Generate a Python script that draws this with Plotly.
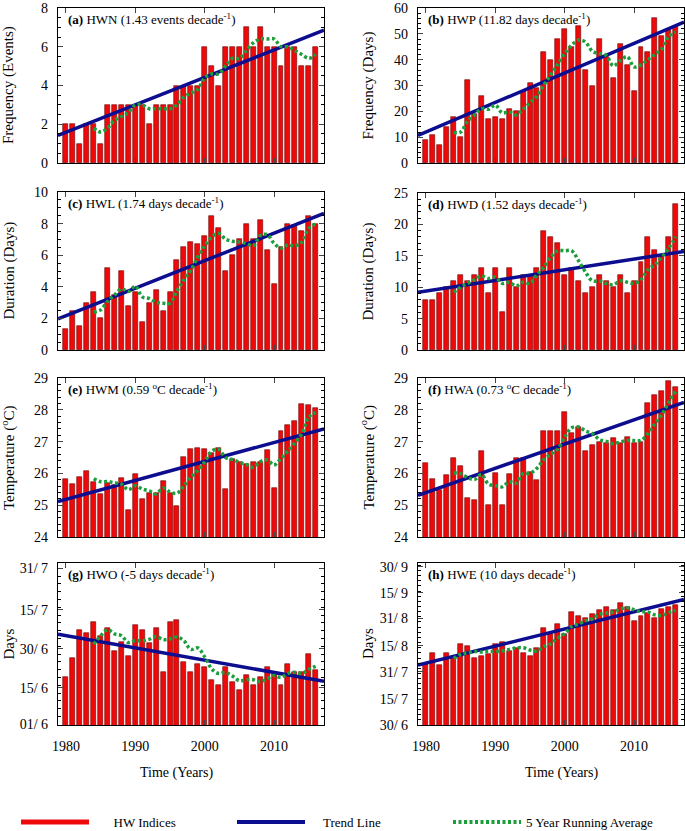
import numpy as np
import pandas as pd
import plotly.graph_objects as go
from plotly.subplots import make_subplots

years = list(range(1980, 2017))

hwn = [2, 2, 1, 2, 2, 1, 3, 3, 3, 3, 3, 3, 2, 3, 3, 3, 4, 4, 4, 4, 6, 5, 4, 6, 6, 6, 7, 6, 7, 6, 6, 5, 6, 6, 5, 5, 6]
hwp = [9, 11, 7, 14, 18, 10, 32, 19, 26, 17, 18, 17, 21, 20, 28, 31, 29, 43, 40, 48, 52, 45, 53, 36, 30, 48, 41, 33, 46, 38, 28, 45, 43, 56, 49, 52, 53]
hwl = [1.3, 2.5, 1.5, 3.0, 3.7, 2.0, 5.2, 3.5, 5.0, 2.8, 3.7, 1.8, 3.0, 3.8, 2.5, 3.7, 5.7, 6.5, 6.85, 6.7, 7.2, 8.5, 7.7, 5.0, 6.0, 7.0, 8.0, 7.0, 8.2, 6.35, 4.2, 6.5, 8.0, 7.9, 7.55, 8.5, 8.0]
hwd = [8, 8, 9, 10, 11, 12, 11, 12, 13, 9, 13, 6, 13, 10, 12, 12, 13, 19, 18, 17, 12, 13, 11, 9, 10, 12, 11, 10, 12, 9, 11, 14, 18, 16, 15, 18, 23.2]
hwm = [25.83, 25.67, 25.88, 26.06, 25.73, 25.36, 25.7, 25.65, 25.87, 24.85, 25.98, 25.18, 25.38, 25.38, 25.77, 25.38, 24.97, 26.53, 26.76, 26.79, 26.77, 26.65, 26.8, 25.5, 26.45, 26.35, 26.3, 26.37, 26.37, 26.73, 25.55, 27.34, 27.53, 27.64, 28.17, 28.16, 28.05]
hwa = [26.34, 25.82, 25.48, 25.94, 26.5, 26.22, 25.22, 25.16, 26.72, 25.0, 26.0, 25.0, 25.97, 26.5, 26.5, 26.05, 25.8, 27.33, 27.33, 27.32, 27.92, 27.28, 27.45, 26.7, 26.9, 27.0, 26.97, 27.1, 26.97, 27.15, 26.97, 27.0, 28.2, 28.47, 28.6, 28.9, 28.72]
# onset / end dates as day of year (non-leap)
hwo = [170, 177.3, 188.3, 187.1, 191.3, 186.1, 189.1, 180.1, 183.6, 178.1, 190.1, 188.3, 183.1, 189.1, 172.1, 191.3, 192.1, 176.1, 172.1, 175.1, 174.1, 169.1, 167.1, 174.1, 168.1, 165.1, 171.1, 167.1, 170.1, 174.1, 171.4, 167.1, 175.1, 172.1, 172.1, 179.1, 173]
hwe = [216.3, 223.1, 216, 223.1, 220.2, 228.4, 227.2, 220.2, 221.4, 222.2, 228, 229.1, 224.1, 225.8, 222.9, 221.2, 226, 237.5, 233.8, 239.6, 234.2, 246.6, 244.4, 243.5, 245.4, 247.7, 249.7, 247.7, 251.8, 249.7, 241.5, 244.4, 246.4, 243.5, 248.3, 249.7, 250.8]

x_ticks = [1980, 1990, 2000, 2010]
g_tickvals = [152, 166, 181, 196, 212]
g_ticktext = ["01/ 6", "15/ 6", "30/ 6", "15/ 7", "31/ 7"]
h_tickvals = [181, 196, 212, 227, 243, 258, 273]
h_ticktext = ["30/ 6", "15/ 7", "31/ 7", "15/ 8", "31/ 8", "15/ 9", "30/ 9"]
legend_names = ["HW Indices", "Trend Line", "5 Year Running Average"]

panels = [
    dict(v=hwn, lab="(a)", txt="HWN (1.43 events decade<sup>-1</sup>)", ytitle="Frequency (Events)",
         yr=[0, 8], dt=2, mdt=0.5),
    dict(v=hwp, lab="(b)", txt="HWP (11.82 days decade<sup>-1</sup>)", ytitle="Frequency (Days)",
         yr=[0, 60], dt=10, mdt=2),
    dict(v=hwl, lab="(c)", txt="HWL (1.74 days decade<sup>-1</sup>)", ytitle="Duration (Days)",
         yr=[0, 10], dt=2, mdt=0.5),
    dict(v=hwd, lab="(d)", txt="HWD (1.52 days decade<sup>-1</sup>)", ytitle="Duration (Days)",
         yr=[0, 25], dt=5, mdt=1),
    dict(v=hwm, lab="(e)", txt="HWM (0.59 <sup>o</sup>C decade<sup>-1</sup>)", ytitle="Temperature (<sup>o</sup>C)",
         yr=[24, 29], dt=1, mdt=0.2),
    dict(v=hwa, lab="(f)", txt="HWA (0.73 <sup>o</sup>C decade<sup>-1</sup>)", ytitle="Temperature (<sup>o</sup>C)",
         yr=[24, 29], dt=1, mdt=0.2),
    dict(v=hwo, lab="(g)", txt="HWO (-5 days decade<sup>-1</sup>)", ytitle="Days",
         yr=[151.7, 214], tv=g_tickvals, tt=g_ticktext, mdt=3),
    dict(v=hwe, lab="(h)", txt="HWE (10 days decade<sup>-1</sup>)", ytitle="Days",
         yr=[181, 275.3], tv=h_tickvals, tt=h_ticktext, mdt=3),
]

W, H = 685, 831
ml, mr, mt, mb = 58, 1, 8, 106
pw, ph = W - ml - mr, H - mt - mb

def px_x(x):
    return (x - ml) / pw

def px_y(y):
    return (H - mb - y) / ph

col_x = [(58, 324), (418, 684)]
rows_y = [[(8, 163), (8, 163)], [(192, 350), (193, 350)], [(378, 537), (378, 537)], [(563, 725), (563, 725)]]

XR = [1978.85, 2017.2]
RED = "#ee0a0a"
BLUE = "#0d0d8f"
GREEN = "#1c9e3c"
FONT = "Liberation Serif"

fig = make_subplots(rows=4, cols=2)
annotations = []

for k, p in enumerate(panels):
    r, c = k // 2, k % 2
    n = k + 1
    xa = "x" if n == 1 else f"x{n}"
    ya = "y" if n == 1 else f"y{n}"
    vals = np.array(p["v"], dtype=float)
    yrs = np.array(years, dtype=float)

    fig.add_trace(go.Bar(x=years, y=vals, width=0.72, marker=dict(color=RED, line=dict(color="#6a0000", width=0.6)),
                         showlegend=False, hoverinfo="skip"), row=r + 1, col=c + 1)
    coef = np.polyfit(yrs, vals, 1)
    xl = np.array(XR)
    fig.add_trace(go.Scatter(x=xl, y=np.polyval(coef, xl), mode="lines", line=dict(color=BLUE, width=3.5),
                             showlegend=False, hoverinfo="skip"), row=r + 1, col=c + 1)
    ra = pd.Series(vals).rolling(5).mean().to_numpy()
    fig.add_trace(go.Scatter(x=years[4:], y=ra[4:], mode="lines",
                             line=dict(color=GREEN, width=3.5, dash="3px,2.5px", shape="spline", smoothing=1.0),
                             showlegend=False, hoverinfo="skip"), row=r + 1, col=c + 1)

    x0, x1 = col_x[c]
    yt, yb = rows_y[r][c]
    ph_k = yb - yt
    xkey = "xaxis" if n == 1 else f"xaxis{n}"
    ykey = "yaxis" if n == 1 else f"yaxis{n}"
    fig.layout[xkey].update(
        domain=[px_x(x0), px_x(x1)], range=XR, tickvals=x_ticks, ticks="inside", ticklen=5,
        showline=True, linecolor="black", linewidth=1.2, mirror="ticks", showgrid=False, zeroline=False,
        showticklabels=(r == 3), tickfont=dict(family=FONT, size=14, color="black"), ticklabelstandoff=8,
        ticklabeloverflow="allow",
    )
    yopts = dict(domain=[px_y(yb), min(1.0, px_y(yt))], range=p["yr"], ticks="inside", ticklen=5,
                 showline=True, linecolor="black", linewidth=1.2, mirror="ticks", showgrid=False, zeroline=False,
                 tickfont=dict(family=FONT, size=14, color="black"), ticklabelstandoff=6,
                 ticklabeloverflow="allow",
                 minor=dict(ticks="inside", ticklen=2.5, dtick=p["mdt"], tickcolor="black"))
    if "tv" in p:
        yopts.update(tickvals=p["tv"], ticktext=p["tt"], tickmode="array")
        yopts["minor"]["tick0"] = p["tv"][0]
    else:
        yopts.update(dtick=p["dt"], tick0=p["yr"][0])
    fig.layout[ykey].update(**yopts)

    annotations.append(dict(xref=f"{xa} domain", yref=f"{ya} domain", x=8 / 266, y=1 - 11 / ph_k,
                            xanchor="left", yanchor="middle", showarrow=False,
                            text=f"<b>{p['lab']}</b> {p['txt']}", font=dict(family=FONT, size=13, color="black")))
    ytx = -0.079 if c == 0 else px_x(368)
    annotations.append(dict(xref="paper", yref="paper", x=ytx, y=(px_y(yb) + px_y(yt)) / 2,
                            xanchor="center", yanchor="middle", textangle=-90, showarrow=False,
                            text=p["ytitle"], font=dict(family=FONT, size=15, color="black")))

for cx in [176, 561]:
    annotations.append(dict(xref="paper", yref="paper", x=px_x(cx), y=px_y(773), xanchor="center",
                            yanchor="middle", showarrow=False, text="Time (Years)",
                            font=dict(family=FONT, size=14, color="black")))

# legend entries
fig.add_trace(go.Scatter(x=[None], y=[None], mode="lines", name="\u00a0" * 6 + legend_names[0],
                         line=dict(color=RED, width=5)))
fig.add_trace(go.Scatter(x=[None], y=[None], mode="lines", name="\u00a0" * 4 + legend_names[1],
                         line=dict(color=BLUE, width=4)))
fig.add_trace(go.Scatter(x=[None], y=[None], mode="lines", name=legend_names[2],
                         line=dict(color=GREEN, width=4, dash="3px,2.5px")))

fig.update_layout(
    width=W, height=H, margin=dict(l=ml, r=mr, t=mt, b=mb, autoexpand=False),
    paper_bgcolor="white", plot_bgcolor="white", bargap=0,
    font=dict(family=FONT, size=14, color="black"),
    annotations=annotations,
    legend=dict(orientation="h", x=px_x(16), y=px_y(822), xanchor="left", yanchor="middle",
                itemwidth=68, entrywidth=133, entrywidthmode="pixels",
                font=dict(family=FONT, size=13, color="black"), bgcolor="rgba(0,0,0,0)"),
)

fig.write_html("out.html", config={"displayModeBar": False},
               post_script="document.body.style.margin='0';document.body.style.overflow='hidden';")
